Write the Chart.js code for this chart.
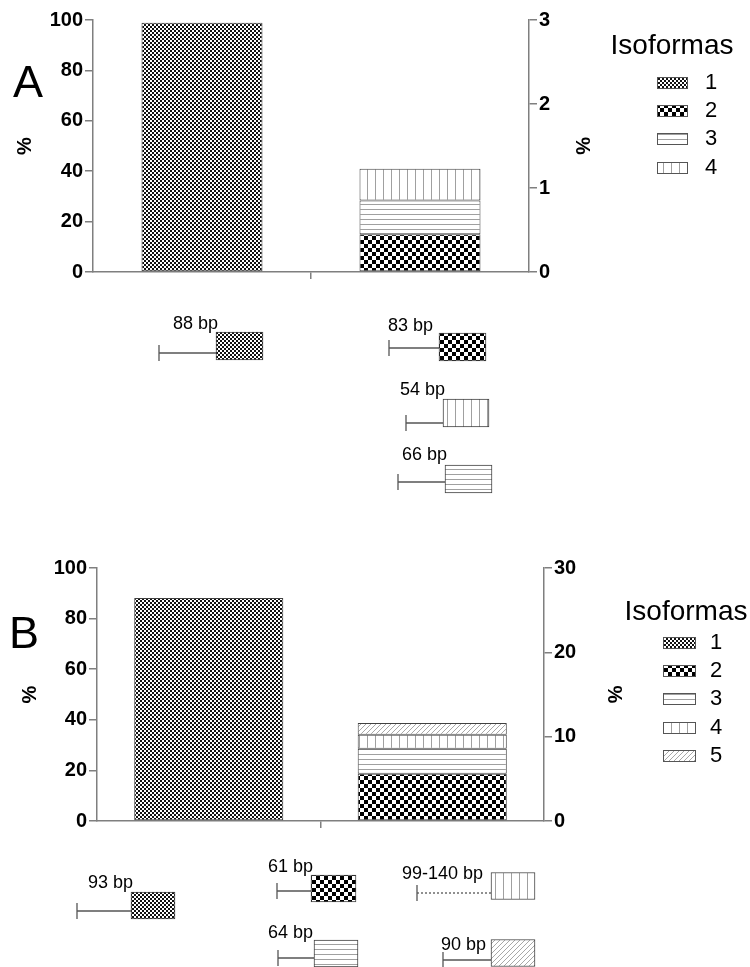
<!DOCTYPE html>
<html lang="es">
<head>
<meta charset="utf-8">
<title>Isoformas</title>
<script src="https://cdn.jsdelivr.net/npm/chart.js@4/dist/chart.umd.min.js"></script>
<style>
  html, body { margin: 0; padding: 0; background: #fff; }
  #figure { position: relative; width: 750px; height: 967px; overflow: hidden; background: #fff; }
  #figure canvas { position: absolute; left: 0; }
</style>
</head>
<body>
<div id="figure">
  <canvas id="barsA" width="750" height="300" style="top:0px"></canvas>
  <canvas id="genesA" width="750" height="210" style="top:300px"></canvas>
  <canvas id="barsB" width="750" height="300" style="top:540px"></canvas>
  <canvas id="genesB" width="750" height="127" style="top:840px"></canvas>
</div>
<script>
// ---------------- data ----------------
const groups = ['Isoforma 1', 'Isoformas 2-5'];
const isoformLabels = ['1', '2', '3', '4', '5'];

// Panel A: isoform 1 on the left axis (0-100 %), minor isoforms stacked on the right axis (0-3 %)
const isoform1A = [98.9, null];
const isoform2A = [null, 0.45];
const isoform3A = [null, 0.40];
const isoform4A = [null, 0.38];
const leftTicksA  = [0, 100, 20];   // min, max, step
const rightTicksA = [0, 3, 1];

// Panel B: right axis 0-30 %
const isoform1B = [88.1, null];
const isoform2B = [null, 5.6];
const isoform3B = [null, 2.97];
const isoform4B = [null, 1.67];
const isoform5B = [null, 1.39];
const leftTicksB  = [0, 100, 20];
const rightTicksB = [0, 30, 10];

// Exon models under each panel (track units: x along the track, y = row)
const exonLabelsA  = ['88 bp', '83 bp', '54 bp', '66 bp'];
const exonIsoformA = [1, 2, 4, 3];
const intronFromA  = [159, 389, 406, 398];
const exonFromA    = [216, 439, 443, 445];
const exonToA      = [263, 486, 489, 492];
const exonRowA     = [4.6, 4.7, 11.3, 17.9];
const intronRowA   = [5.3, 4.8, 12.3, 18.2];

const exonLabelsB  = ['93 bp', '61 bp', '64 bp', '99-140 bp', '90 bp'];
const exonIsoformB = [1, 2, 3, 4, 5];
const intronFromB  = [77, 277, 278, 417, 443];
const exonFromB    = [131, 311, 314, 491, 491];
const exonToB      = [175, 356, 358, 535, 535];
const exonRowB     = [6.55, 4.85, 11.35, 4.6, 11.3];
const intronRowB   = [7.1, 5.1, 11.8, 5.3, 12.0];

// ---------------- styles ----------------
const FONT = "'Liberation Sans', Arial, Helvetica, sans-serif";
const INK = '#000000';
const AXIS = '#7f7f7f';
const EDGE = '#404040';
const STEM = '#555555';

function tile(w, h, paint) {
  const c = document.createElement('canvas');
  c.width = w; c.height = h;
  const g = c.getContext('2d');
  g.fillStyle = '#ffffff';
  g.fillRect(0, 0, w, h);
  paint(g);
  return g.createPattern(c, 'repeat');
}

// hatch fills, one per isoform
const fills = {
  1: tile(4, 4, g => { g.fillStyle = '#111'; g.fillRect(0, 0, 2, 2); g.fillRect(2, 2, 2, 2); }),
  2: tile(8, 8, g => { g.fillStyle = '#000'; g.fillRect(0, 0, 4, 4); g.fillRect(4, 4, 4, 4); }),
  3: tile(5, 5, g => { g.fillStyle = '#a0a0a0'; g.fillRect(0, 4, 5, 1); }),
  4: tile(8, 8, g => { g.fillStyle = '#a0a0a0'; g.fillRect(7, 0, 1, 8); }),
  5: tile(5, 5, g => {
    g.strokeStyle = '#a8a8a8'; g.lineWidth = 1;
    g.beginPath();
    g.moveTo(0, 5); g.lineTo(5, 0);
    g.moveTo(-1, 1); g.lineTo(1, -1);
    g.moveTo(4, 6); g.lineTo(6, 4);
    g.stroke();
  })
};

// ---------------- plugins ----------------
function legendPlugin(lay) {
  return {
    id: 'isoLegend',
    afterDraw(chart) {
      const ctx = chart.ctx;
      ctx.save();
      ctx.fillStyle = INK;
      ctx.textBaseline = 'middle';
      ctx.textAlign = 'center';
      ctx.font = lay.titleSize + 'px ' + FONT;
      ctx.fillText('Isoformas', lay.titleX, lay.titleY);
      ctx.font = lay.labelSize + 'px ' + FONT;
      chart.data.datasets.forEach((ds, i) => {
        const y = lay.firstY + i * lay.step;
        const top = Math.round(y - lay.boxH / 2);
        ctx.fillStyle = ds.backgroundColor;
        ctx.fillRect(lay.boxX, top, lay.boxW, lay.boxH);
        ctx.strokeStyle = '#555';
        ctx.lineWidth = 1;
        ctx.strokeRect(lay.boxX + 0.5, top + 0.5, lay.boxW - 1, lay.boxH - 1);
        ctx.fillStyle = INK;
        ctx.textAlign = 'left';
        ctx.fillText(ds.label, lay.labelX, y);
      });
      ctx.font = lay.letterSize + 'px ' + FONT;
      ctx.textAlign = 'left';
      ctx.textBaseline = 'alphabetic';
      ctx.fillText(lay.letter, lay.letterX, lay.letterY);
      ctx.restore();
    }
  };
}

function exonLabelPlugin(labels, shifts, size) {
  return {
    id: 'exonLabels',
    afterDatasetsDraw(chart) {
      const meta = chart.getDatasetMeta(0);
      const ctx = chart.ctx;
      ctx.save();
      ctx.font = size + 'px ' + FONT;
      ctx.fillStyle = INK;
      ctx.textAlign = 'right';
      ctx.textBaseline = 'alphabetic';
      meta.data.forEach((el, i) => {
        const p = el.getProps(['x', 'y', 'base', 'height'], true);
        const left = Math.min(p.x, p.base);
        const top = p.y - p.height / 2;
        ctx.fillText(labels[i], left + shifts[i][0], top - shifts[i][1]);
      });
      ctx.restore();
    }
  };
}

// ---------------- charts ----------------
const tickFont = { family: FONT, size: 20, weight: 'bold' };
const pctTitle = { display: true, text: '%', color: INK, font: { family: FONT, size: 20, weight: 'bold' }, padding: { top: 4, bottom: 4 } };

function barPanel(id, series, ticksL, ticksR, lay, legendLay) {
  const datasets = series.map((values, i) => ({
    label: isoformLabels[i],
    data: values,
    yAxisID: i === 0 ? 'y' : 'y2',
    backgroundColor: fills[i + 1],
    borderColor: EDGE,
    borderWidth: 1,
    borderSkipped: false,
    grouped: false,
    categoryPercentage: 1,
    barPercentage: lay.barShare
  }));
  const sideAxis = (pos, t, width) => ({
    position: pos,
    min: t[0], max: t[1],
    stacked: true,
    ticks: { stepSize: t[2], font: tickFont, color: INK, padding: 2 },
    grid: { drawOnChartArea: false, tickLength: 8, lineWidth: 1.5, color: AXIS },
    border: { color: AXIS, width: 1.5 },
    title: pctTitle,
    afterFit: s => { s.width = width; }
  });
  return new Chart(document.getElementById(id), {
    type: 'bar',
    data: { labels: groups, datasets },
    options: {
      responsive: false,
      animation: false,
      devicePixelRatio: 1,
      events: [],
      layout: { padding: lay.padding },
      plugins: { legend: { display: false }, tooltip: { enabled: false } },
      scales: {
        x: {
          type: 'category',
          stacked: true,
          offset: true,
          grid: {
            offset: true, drawOnChartArea: false, tickLength: 7, lineWidth: 1.5,
            color: c => (c.index === 1 ? AXIS : 'rgba(0,0,0,0)')
          },
          border: { color: AXIS, width: 1.5 },
          ticks: { display: false },
          afterFit: s => { s.height = 10; }
        },
        y: sideAxis('left', ticksL, lay.leftWidth),
        y2: sideAxis('right', ticksR, lay.rightWidth)
      }
    },
    plugins: [legendPlugin(legendLay)]
  });
}

function genePanel(id, g) {
  const exonSet = {
    type: 'bar',
    data: g.from.map((x0, i) => ({ x: [x0, g.to[i]], y: g.row[i] })),
    backgroundColor: g.iso.map(k => fills[k]),
    borderColor: EDGE,
    borderWidth: 1,
    borderSkipped: false,
    barThickness: g.thickness,
    order: 0
  };
  const intronSets = g.intronFrom.map((x0, i) => ({
    type: 'line',
    data: [{ x: x0, y: g.intronRow[i] }, { x: g.from[i], y: g.intronRow[i] }],
    borderColor: STEM,
    borderWidth: 1.3,
    borderDash: g.dashed[i] ? [2, 2] : [],
    pointStyle: 'line',
    rotation: 90,
    pointRadius: [8, 0],
    pointHoverRadius: 0,
    pointBorderColor: STEM,
    pointBorderWidth: 1.3,
    clip: false,
    order: 1
  }));
  return new Chart(document.getElementById(id), {
    type: 'bar',
    data: { datasets: [exonSet, ...intronSets] },
    options: {
      indexAxis: 'y',
      responsive: false,
      animation: false,
      devicePixelRatio: 1,
      events: [],
      layout: { autoPadding: false, padding: 0 },
      plugins: { legend: { display: false }, tooltip: { enabled: false } },
      scales: {
        x: { type: 'linear', min: 0, max: 750, offset: false, display: false },
        y: { type: 'linear', min: 0, max: g.rows, reverse: true, offset: false, display: false }
      }
    },
    plugins: [exonLabelPlugin(g.labels, g.shifts, 18)]
  });
}

// Panel A
barPanel('barsA', [isoform1A, isoform2A, isoform3A, isoform4A], leftTicksA, rightTicksA,
  { padding: { left: 9, right: 152, top: 20, bottom: 18 }, leftWidth: 84, rightWidth: 69, barShare: 0.555 },
  { titleX: 672, titleY: 46, titleSize: 28, labelSize: 22, boxX: 657, boxW: 31, boxH: 12,
    labelX: 705, firstY: 83, step: 28.2, letter: 'A', letterSize: 45, letterX: 13, letterY: 97 });

genePanel('genesA', {
  labels: exonLabelsA, iso: exonIsoformA, intronFrom: intronFromA, from: exonFromA, to: exonToA,
  row: exonRowA, intronRow: intronRowA, rows: 21, thickness: 28,
  dashed: [false, false, false, false],
  shifts: [[2, 3], [-6, 2], [2, 4], [2, 5]]
});

// Panel B
barPanel('barsB', [isoform1B, isoform2B, isoform3B, isoform4B, isoform5B], leftTicksB, rightTicksB,
  { padding: { left: 14, right: 120, top: 28, bottom: 9 }, leftWidth: 83, rightWidth: 86, barShare: 0.667 },
  { titleX: 686, titleY: 72, titleSize: 28, labelSize: 22, boxX: 663, boxW: 33, boxH: 12,
    labelX: 710, firstY: 103, step: 28.2, letter: 'B', letterSize: 45, letterX: 9, letterY: 108 });

genePanel('genesB', {
  labels: exonLabelsB, iso: exonIsoformB, intronFrom: intronFromB, from: exonFromB, to: exonToB,
  row: exonRowB, intronRow: intronRowB, rows: 12.7, thickness: 27,
  dashed: [false, false, false, true, false],
  shifts: [[2, 4], [2, 3], [-1, 2], [-8, -6], [-5, -10]]
});
</script>
</body>
</html>
